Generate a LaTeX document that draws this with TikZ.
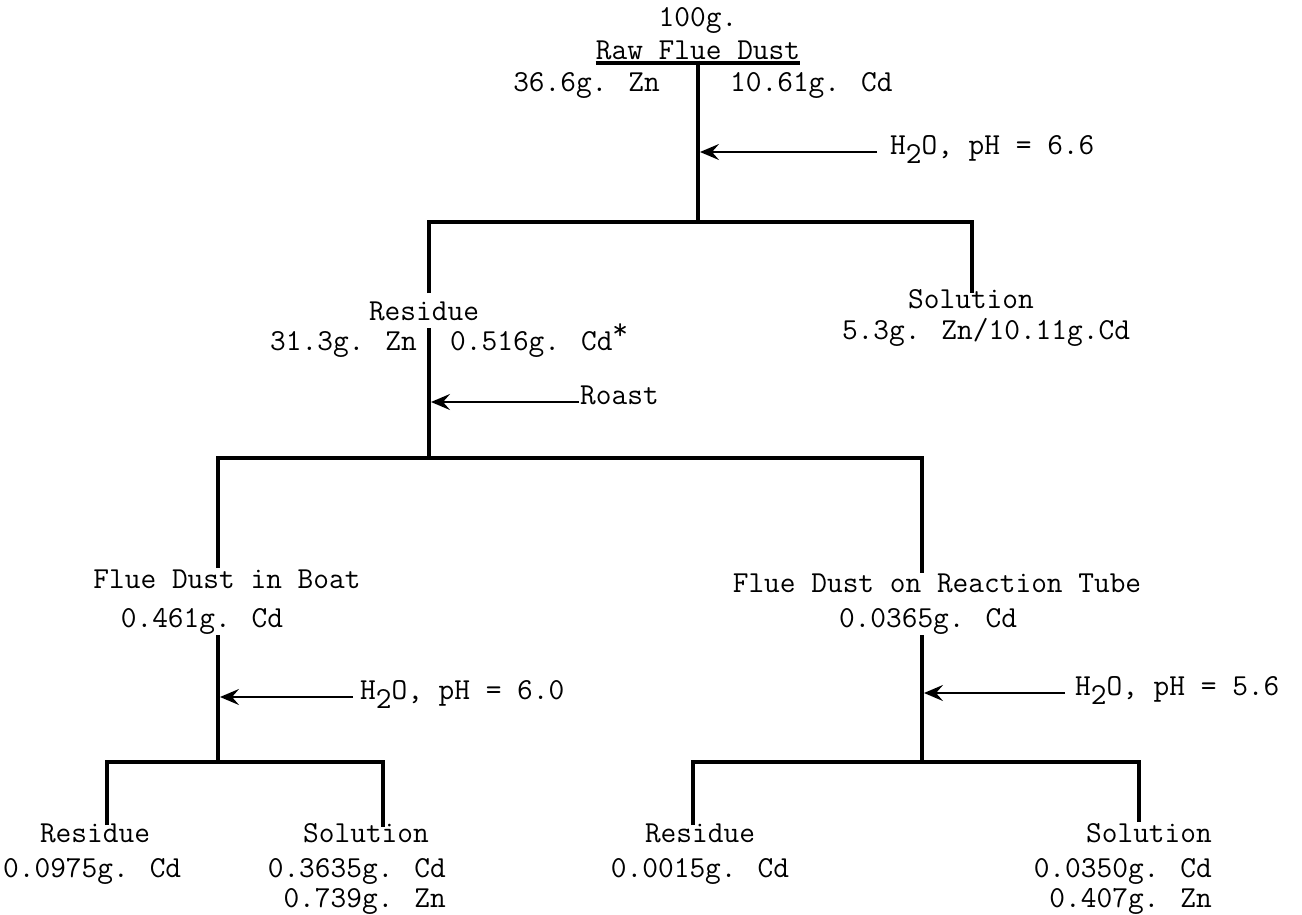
\documentclass[tikz,border=0pt]{standalone}
\usetikzlibrary{arrows.meta,positioning,calc}

\newcommand{\water}{H\raisebox{-0.3em}{2}O}

\begin{document}
\begin{tikzpicture}[x=1pt, y=-1pt, >={Stealth[length=19pt,width=16pt,inset=7pt]},
  every node/.style={font=\ttfamily\fontsize{30.5}{36}\selectfont, inner sep=0pt},
  tree/.style={line width=4pt},
  feed/.style={line width=2.2pt, ->}]
\useasboundingbox (0,0) rectangle (1302,915);

  % Define text nodes
\node[anchor=base] (hundred) at (698,27) {100g.}; \node[anchor=base] (raw) at (698,60) {Raw Flue Dust}; \node[anchor=base east] (znA) at (660,92) {36.6g. Zn}; \node[anchor=base west] (cdA) at (730,92) {10.61g. Cd}; \node[anchor=mid west] (feedA) at (890,152) {\water, pH = 6.6};
\node[anchor=base] (resA) at (424,320) {Residue}; \node[anchor=base east] (znB) at (417,350) {31.3g. Zn}; \node[anchor=base west] (cdB) at (450,350) {0.516g. Cd\raisebox{0.35em}{*}}; \node[anchor=mid west] (roast) at (580,402) {Roast};
\node[anchor=base] (solA) at (971,308) {Solution}; \node[anchor=base] (mixA) at (986,339) {5.3g. Zn/10.11g.Cd};
\node[anchor=base] (boat) at (227,588) {Flue Dust in Boat}; \node[anchor=base] (cdC) at (202,627) {0.461g. Cd}; \node[anchor=mid west] (feedB) at (360,697) {\water, pH = 6.0};
\node[anchor=base] (tube) at (937,592) {Flue Dust on Reaction Tube}; \node[anchor=base] (cdD) at (928,627) {0.0365g. Cd}; \node[anchor=mid west] (feedC) at (1075,693) {\water, pH = 5.6};
\node[anchor=base] (resB) at (95,842) {Residue}; \node[anchor=base west] (cdE) at (3,877) {0.0975g. Cd};
\node[anchor=base] (solB) at (366,842) {Solution}; \node[anchor=base east] (cdF) at (446,877) {0.3635g. Cd}; \node[anchor=base east] (znF) at (446,907) {0.739g. Zn};
\node[anchor=base] (resC) at (700,842) {Residue}; \node[anchor=base] (cdG) at (700,877) {0.0015g. Cd};
\node[anchor=base east] (solC) at (1212,842) {Solution}; \node[anchor=base east] (cdH) at (1212,877) {0.0350g. Cd}; \node[anchor=base east] (znH) at (1212,907) {0.407g. Zn};

  % Define branch points
\coordinate (jA) at (698,222); \coordinate (aL) at (429,293); \coordinate (aR) at (972,293);
\coordinate (bTop) at (429,328); \coordinate (jB) at (429,458); \coordinate (bL) at (218,568); \coordinate (bR) at (922,573);
\coordinate (cTop) at (218,635); \coordinate (jC) at (218,762); \coordinate (cL) at (107,825); \coordinate (cR) at (383,827);
\coordinate (dTop) at (922,635); \coordinate (jD) at (922,762); \coordinate (dL) at (693,825); \coordinate (dR) at (1139,822);

  % Draw the tree
\draw[tree] ([yshift=-2.5pt]raw.south west) -- ([yshift=-2.5pt]raw.south east); \draw[tree] (raw.south) -- (jA); \draw[tree] (aL) |- (jA) -| (aR);
\draw[tree] (bTop) -- (jB); \draw[tree] (bL) |- (jB) -| (bR);
\draw[tree] (cTop) -- (jC); \draw[tree] (cL) |- (jC) -| (cR);
\draw[tree] (dTop) -- (jD); \draw[tree] (dL) |- (jD) -| (dR);

  % Draw feed arrows
\draw[feed] ([xshift=-13pt]feedA.mid west) -- ([xshift=2pt]feedA.mid west -| jA); \draw[feed] ([xshift=-1pt]roast.mid west) -- ([xshift=2pt]roast.mid west -| jB);
\draw[feed] ([xshift=-7pt]feedB.mid west) -- ([xshift=2pt]feedB.mid west -| jC); \draw[feed] ([xshift=-10pt]feedC.mid west) -- ([xshift=2pt]feedC.mid west -| jD);

\end{tikzpicture}
\end{document}
